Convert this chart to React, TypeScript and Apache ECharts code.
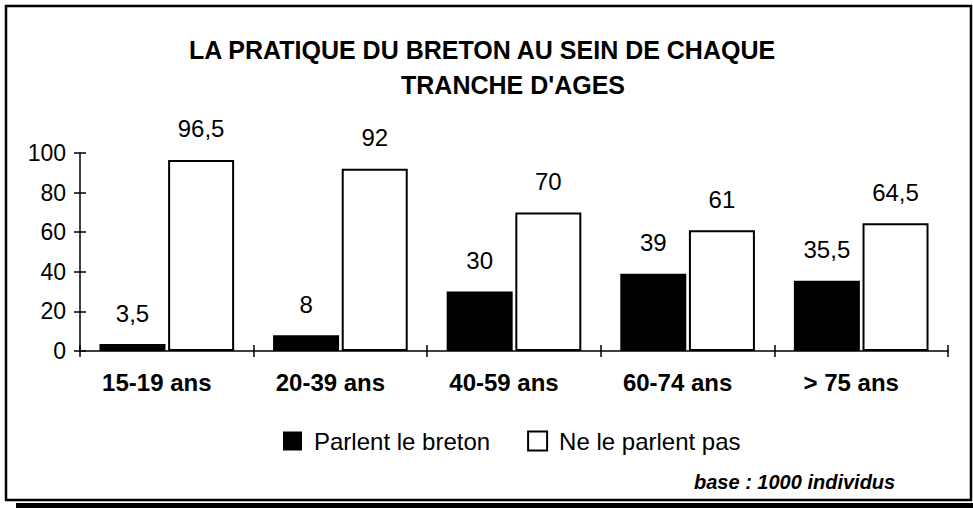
import React, { useEffect, useRef } from "react";
import * as echarts from "echarts";

const categories = ["15-19 ans", "20-39 ans", "40-59 ans", "60-74 ans", "> 75 ans"];
const parlent = [3.5, 8, 30, 39, 35.5];
const neParlentPas = [96.5, 92, 70, 61, 64.5];
const seriesNames = ["Parlent le breton", "Ne le parlent pas"];
const titleLine1 = "LA PRATIQUE DU BRETON AU SEIN DE CHAQUE";
const titleLine2 = "TRANCHE D'AGES";
const footnote = "base : 1000 individus";

const FONT = "'Liberation Sans', Arial, Helvetica, sans-serif";
const fmt = (v: number) => String(v).replace(".", ",");

export default function App() {
  const ref = useRef<HTMLDivElement>(null);
  useEffect(() => {
    if (!ref.current) return;
    const chart = echarts.init(ref.current, null, { renderer: "svg" });
    const labelStyle = {
      show: true,
      position: "top" as const,
      distance: 19,
      fontFamily: FONT,
      fontSize: 24,
      color: "#000",
      formatter: (p: any) => fmt(p.value),
    };
    chart.setOption({
      animation: false,
      backgroundColor: "#fff",
      title: [
        {
          text: titleLine1,
          left: 184,
          top: 32,
          textStyle: { fontFamily: FONT, fontSize: 25, fontWeight: "bold", color: "#000" },
        },
        {
          text: titleLine2,
          left: 396,
          top: 67,
          textStyle: { fontFamily: FONT, fontSize: 25, fontWeight: "bold", color: "#000" },
        },
        {
          text: footnote,
          left: 689,
          top: 467,
          textStyle: { fontFamily: FONT, fontSize: 20, fontWeight: "bold", fontStyle: "italic", color: "#000" },
        },
      ],
      graphic: [
        {
          type: "rect",
          shape: { x: 6, y: 6, width: 965, height: 494 },
          style: { fill: "none", stroke: "#000", lineWidth: 2.5 },
          silent: true,
        },
        {
          type: "rect",
          shape: { x: 16, y: 503, width: 957, height: 5 },
          style: { fill: "#000" },
          silent: true,
        },
      ],
      legend: {
        left: 278,
        top: 424,
        itemWidth: 19,
        itemHeight: 19,
        itemGap: 37,
        icon: "rect",
        textStyle: { fontFamily: FONT, fontSize: 24, color: "#000", padding: [0, 0, 0, 7] },
        data: seriesNames,
      },
      grid: { left: 80, right: 25, top: 153, bottom: 157 },
      xAxis: [
        {
          type: "category",
          data: categories,
          axisLine: { lineStyle: { color: "#000", width: 1.5 } },
          axisTick: { show: true, length: 6, lineStyle: { color: "#000", width: 1.5 } },
          axisLabel: {
            fontFamily: FONT,
            fontSize: 24,
            fontWeight: "bold",
            color: "#000",
            margin: 19,
            padding: [0, 20, 0, 0],
          },
        },
        {
          type: "category",
          data: categories,
          position: "bottom",
          axisLine: { show: false },
          axisTick: { show: true, inside: true, length: 6, lineStyle: { color: "#000", width: 1.5 } },
          axisLabel: { show: false },
        },
      ],
      yAxis: [
        {
          type: "value",
          min: 0,
          max: 100,
          interval: 20,
          splitLine: { show: false },
          axisLine: { show: true, lineStyle: { color: "#000", width: 1.5 } },
          axisTick: { show: true, length: 6, lineStyle: { color: "#000", width: 1.5 } },
          axisLabel: { fontFamily: FONT, fontSize: 23, color: "#000", margin: 14 },
        },
        {
          type: "value",
          min: 0,
          max: 100,
          interval: 20,
          position: "left",
          splitLine: { show: false },
          axisLine: { show: false },
          axisTick: { show: true, inside: true, length: 6, lineStyle: { color: "#000", width: 1.5 } },
          axisLabel: { show: false },
        },
      ],
      series: [
        {
          name: seriesNames[0],
          type: "bar",
          data: parlent,
          barWidth: 66,
          barGap: "4%",
          itemStyle: { color: "#000", borderColor: "#000", borderWidth: 0 },
          label: labelStyle,
        },
        {
          name: seriesNames[1],
          type: "bar",
          data: neParlentPas,
          barWidth: 66,
          barGap: "4%",
          itemStyle: { color: "#fff", borderColor: "#000", borderWidth: 2 },
          label: labelStyle,
        },
      ],
    });
    return () => chart.dispose();
  }, []);
  return (
    <div
      ref={ref}
      style={{ position: "fixed", left: 0, top: 0, width: 973, height: 508 }}
    />
  );
}
